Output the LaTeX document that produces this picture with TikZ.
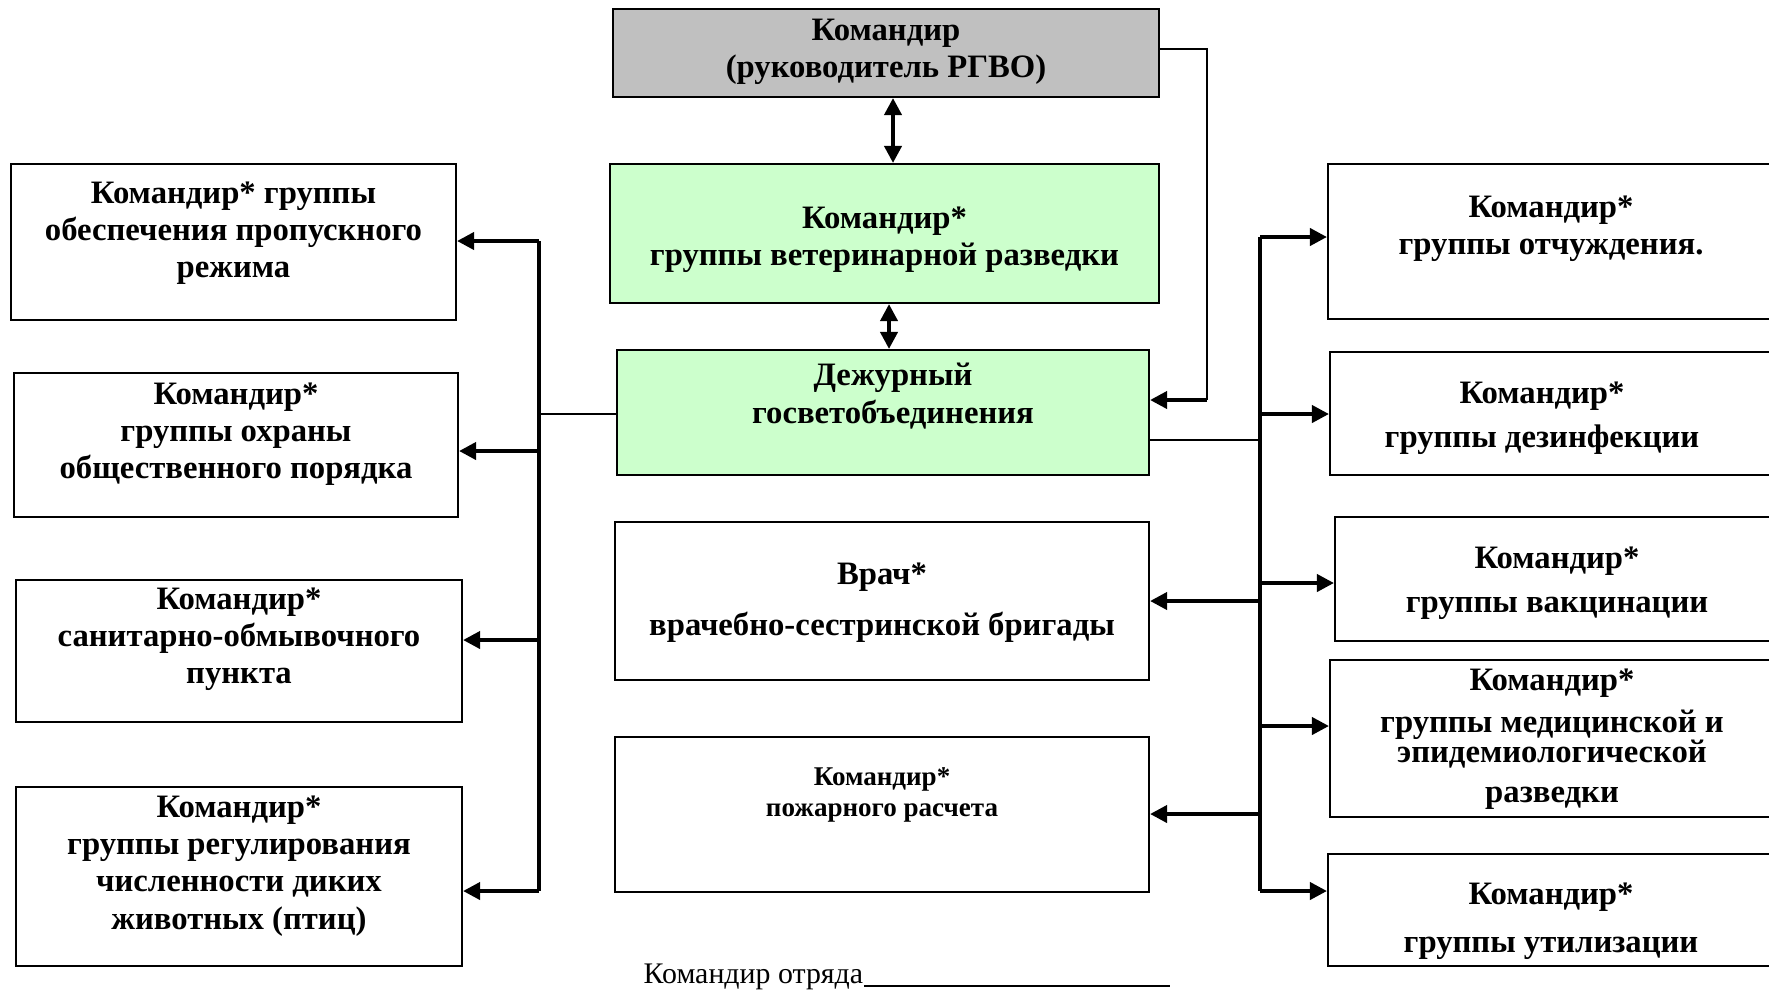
\documentclass[tikz,border=0pt]{standalone}
\usepackage{fontspec}
\setmainfont{Liberation Serif}
\usepackage{tikz}
\usetikzlibrary{arrows.meta}
\definecolor{boxgray}{RGB}{192,192,192}
\definecolor{boxgreen}{RGB}{204,255,204}
\def\px{0.1mm}
\tikzstyle{box}   = [draw, line width=0.6pt, inner sep=0pt]
\tikzstyle{txt}   = [align=center, inner sep=0pt, font=\bfseries\fontsize{9.3}{10.6}\selectfont]
\tikzstyle{arrow} = [line width=1.1pt, -{Triangle[length=1.7mm, width=1.7mm]}]
\tikzstyle{both}  = [line width=1.1pt, {Triangle[length=1.7mm, width=1.7mm]}-{Triangle[length=1.7mm, width=1.7mm]}]
\tikzstyle{link}  = [line width=0.6pt]

\begin{document}
\begin{tikzpicture}[x=\px, y=-\px]
  \clip (0,0) rectangle (1769,989);

  %the chain of command in the middle
  \node[box, fill=boxgray, minimum width=546*\px, minimum height=88*\px] (chief) at (886,53) {};
  \node[txt] (chieftxt) at (886,52) {Командир\\(руководитель РГВО)};
  \node[box, fill=boxgreen, minimum width=549*\px, minimum height=139*\px] (vet) at (884.5,233.5) {};
  \node[txt] (vettxt) at (884.5,240) {Командир*\\группы ветеринарной разведки};
  \node[box, fill=boxgreen, minimum width=532*\px, minimum height=125*\px] (duty) at (883,412.5) {};
  \node[txt] (dutytxt) at (893,396) {Дежурный\\госветобъединения};
  \node[box, minimum width=534*\px, minimum height=158*\px] (doctor) at (882,601) {};
  \node[txt] (doctortxt) at (882,603) {Врач*\\[4pt]врачебно-сестринской бригады};
  \node[box, minimum width=534*\px, minimum height=155*\px] (fire) at (882,814.5) {};
  \node[txt, font=\bfseries\fontsize{7.7}{9}\selectfont] (firetxt) at (882,795) {Командир*\\пожарного расчета};

  %put some boxes on the left
  \node[box, minimum width=445*\px, minimum height=156*\px] (l1) at (233.5,242) {};
  \node[txt] (l1txt) at (233.5,233) {Командир* группы\\обеспечения пропускного\\режима};
  \node[box, minimum width=444*\px, minimum height=144*\px] (l2) at (236,445) {};
  \node[txt] (l2txt) at (236,434) {Командир*\\группы охраны\\общественного порядка};
  \node[box, minimum width=446*\px, minimum height=142*\px] (l3) at (239,651) {};
  \node[txt] (l3txt) at (239,639) {Командир*\\санитарно-обмывочного\\пункта};
  \node[box, minimum width=446*\px, minimum height=179*\px] (l4) at (239,876.5) {};
  \node[txt] (l4txt) at (239,866) {Командир*\\группы регулирования\\численности диких\\животных (птиц)};

  %put some boxes on the right
  \node[box, minimum width=447*\px, minimum height=155*\px] (r1) at (1551.5,241.5) {};
  \node[txt] (r1txt) at (1551,229) {Командир*\\группы отчуждения.};
  \node[box, minimum width=445*\px, minimum height=123*\px] (r2) at (1552.5,413.5) {};
  \node[txt] (r2txt) at (1542,418) {Командир*\\[2pt]группы дезинфекции};
  \node[box, minimum width=440*\px, minimum height=124*\px] (r3) at (1555,579) {};
  \node[txt] (r3txt) at (1557,583) {Командир*\\[2pt]группы вакцинации};
  \node[box, minimum width=445*\px, minimum height=157*\px] (r4) at (1552.5,738.5) {};
  \node[txt] (r4txt) at (1552,739) {Командир*\\[1.3pt]группы медицинской и\\[-2pt]эпидемиологической\\[0.6pt]разведки};
  \node[box, minimum width=447*\px, minimum height=112*\px] (r5) at (1551.5,910) {};
  \node[txt] (r5txt) at (1551,921) {Командир*\\[3pt]группы утилизации};

  \node[anchor=base west, inner sep=0pt, font=\fontsize{8.5}{10}\selectfont] (sign) at (643,983) {Командир отряда};
  \coordinate (signend) at (1170,986);
  \draw[line width=0.4pt] (sign.base east |- signend) -- (signend);

  %connections in the middle
  \coordinate (ca) at (893,0);
  \coordinate (cb) at (889,0);
  \draw[both] (ca |- chief.south) -- (ca |- vet.north);
  \draw[both] (cb |- vet.south) -- (cb |- duty.north);
  \coordinate (cr) at (1207,49);
  \coordinate (cd) at (1207,400);
  \draw[link] (cr -| chief.east) -- (cr) -- (cd);
  \draw[arrow] (cd) -- (cd -| duty.east);

  %left bus
  \foreach \n/\y in {1/241, 2/451, 3/640, 4/891}{
    \coordinate (lb\n) at (539,\y);
    \draw[arrow] (lb\n) -- (lb\n -| l\n.east);
  }
  \draw[line width=1.1pt] (lb1) -- (lb4);
  \coordinate (ld) at (539,414);
  \draw[link] (ld -| duty.west) -- (ld);

  %right bus
  \foreach \n/\y in {1/237, 2/414, 3/583, 4/726, 5/891}{
    \coordinate (rb\n) at (1260,\y);
    \draw[arrow] (rb\n) -- (rb\n -| r\n.west);
  }
  \draw[line width=1.1pt] (rb1) -- (rb5);
  \coordinate (rd) at (1260,440);
  \draw[link] (rd -| duty.east) -- (rd);
  \coordinate (rv) at (1260,601);
  \draw[arrow] (rv) -- (rv -| doctor.east);
  \coordinate (rf) at (1260,814);
  \draw[arrow] (rf) -- (rf -| fire.east);
\end{tikzpicture}
\end{document}
